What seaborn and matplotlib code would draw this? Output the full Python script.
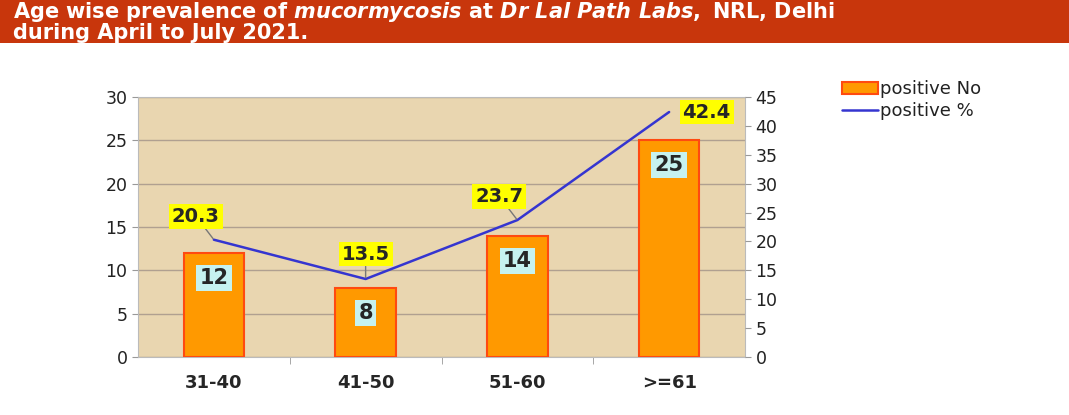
import numpy as np
import pandas as pd
import matplotlib.pyplot as plt
import seaborn as sns

age_groups = ['31-40', '41-50', '51-60', '>=61']
positive_no = [12, 8, 14, 25]
positive_pct = [20.3, 13.5, 23.7, 42.4]

df = pd.DataFrame({'Age': age_groups, 'positive No': positive_no, 'positive %': positive_pct})

sns.set_style('white')
plt.rcParams['font.family'] = ['DejaVu Sans']
plt.rcParams['mathtext.fontset'] = 'custom'
plt.rcParams['mathtext.it'] = 'DejaVu Sans:italic:bold'
plt.rcParams['mathtext.rm'] = 'DejaVu Sans:bold'

fig = plt.figure(figsize=(10.69, 4.15), dpi=100)

# title banner
fig.patches.append(plt.Rectangle((0, 1 - 43 / 415), 1, 43 / 415, transform=fig.transFigure,
                                 facecolor='#C8360C', edgecolor='none', zorder=0))
fig.text(0.012, 1 - 12 / 415,
         r'Age wise prevalence of $\it{mucormycosis}$ at $\it{Dr\ Lal\ Path\ Labs,}$ NRL, Delhi',
         color='white', fontsize=15, fontweight='bold', va='center', ha='left')
fig.text(0.012, 1 - 33 / 415, 'during April to July 2021.', color='white', fontsize=15,
         fontweight='bold', va='center', ha='left')

ax = fig.add_axes([138 / 1069, 1 - 357 / 415, 607 / 1069, 260 / 415])
ax.set_facecolor('#E9D6B0')
sns.barplot(data=df, x='Age', y='positive No', color='#FF9900', edgecolor='#FF4A10',
            linewidth=1.5, width=0.4, saturation=1, ax=ax, zorder=3)
ax.set_ylim(0, 30)
ax.set_yticks(range(0, 31, 5))
ax.set_xticks([0.5, 1.5, 2.5], minor=True)
ax.yaxis.grid(True, color='#B0A090', linewidth=1)
ax.set_axisbelow(True)
ax.set_xlabel('')
ax.set_ylabel('')
ax.tick_params(axis='x', which='major', labelsize=13, pad=12, length=0)
ax.tick_params(axis='x', which='minor', length=5, bottom=True, color='#999999')
ax.tick_params(axis='y', labelsize=12.5, length=4, left=True, color='#999999', labelcolor='#222222')
for t in ax.get_xticklabels():
    t.set_fontweight('bold')
for s in ax.spines.values():
    s.set_color('#BBBBBB')

for i, v in enumerate(positive_no):
    ax.annotate(str(v), (i, v), xytext=(0, -18), textcoords='offset points',
                ha='center', va='center', fontsize=15, fontweight='bold', zorder=5,
                bbox=dict(boxstyle='square,pad=0.15', facecolor='#C6F2F0', edgecolor='none'))

ax2 = ax.twinx()
sns.lineplot(x=np.arange(len(age_groups)), y=positive_pct, color='#3535D0', linewidth=1.8,
             ax=ax2, label='positive %', legend=False)
ax2.set_ylim(0, 45)
ax2.set_yticks(range(0, 46, 5))
ax2.tick_params(axis='y', labelsize=12.5, length=4, right=True, color='#999999', labelcolor='#222222')
for s in ax2.spines.values():
    s.set_visible(False)
ax.set_xlim(-0.5, len(age_groups) - 0.5)

offsets = [(-13, 17), (0, 18), (-13, 17), (27, 0)]
for i, (v, off) in enumerate(zip(positive_pct, offsets)):
    arrow = None if off[1] == 0 else dict(arrowstyle='-', color='#777777', lw=1, shrinkA=0, shrinkB=1)
    ax2.annotate(f'{v}', (i, v), xytext=off, textcoords='offset points',
                 ha='center', va='center', fontsize=14, fontweight='bold', zorder=6,
                 bbox=dict(boxstyle='square,pad=0.15', facecolor='#FFFF00', edgecolor='none'),
                 arrowprops=arrow)

h1 = [plt.Rectangle((0, 0), 1, 1, facecolor='#FF9900', edgecolor='#FF4A10', linewidth=1.5)]
h2, l2 = ax2.get_legend_handles_labels()
fig.legend(h1 + h2, ['positive No'] + l2, loc='upper left', bbox_to_anchor=(826 / 1069, 1 - 64 / 415),
           frameon=False, fontsize=13, handlelength=2.0, handletextpad=0.1, labelspacing=0.2,
           labelcolor='#222222')

fig.savefig('out.png', dpi=100)
